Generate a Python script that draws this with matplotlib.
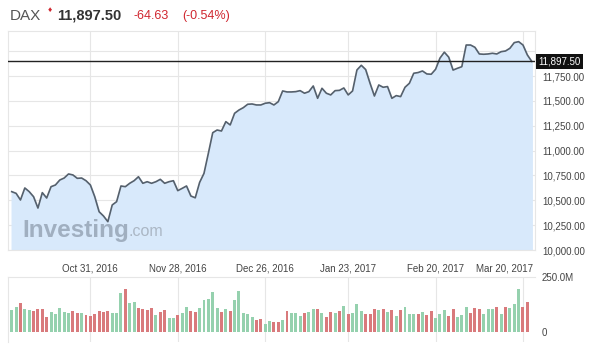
import numpy as np
import pandas as pd
import matplotlib
matplotlib.use("Agg")
from matplotlib import pyplot as plt
from matplotlib.transforms import ScaledTranslation

plt.rcParams['font.family'] = ['Liberation Sans', 'DejaVu Sans']

# trading days (Xetra closed Dec 26)
dates = pd.bdate_range('2016-10-05', '2017-03-22')
dates = dates[dates != pd.Timestamp('2016-12-26')]

close = [10587, 10570, 10503, 10624, 10587, 10536, 10422, 10577, 10523, 10637,
         10654, 10704, 10724, 10765, 10755, 10721, 10724, 10697, 10654, 10536,
         10385, 10342, 10285, 10453, 10486, 10644, 10637, 10671, 10697, 10737,
         10671, 10687, 10671, 10687, 10711, 10671, 10687, 10697, 10597, 10620,
         10644, 10543, 10525, 10680, 10771, 10973, 11180, 11207, 11197, 11291,
         11258, 11375, 11408, 11432, 11466, 11469, 11459, 11459, 11476, 11482,
         11459, 11492, 11600, 11590, 11590, 11593, 11603, 11577, 11593, 11650,
         11526, 11627, 11577, 11560, 11603, 11606, 11630, 11560, 11600, 11811,
         11858, 11815, 11677, 11549, 11660, 11637, 11644, 11526, 11553, 11543,
         11637, 11677, 11778, 11785, 11801, 11771, 11768, 11818, 11930, 11990,
         11940, 11810, 11828, 11844, 12062, 12062, 12039, 11972, 11969, 11972,
         11979, 11972, 11995, 12002, 12029, 12086, 12096, 12062, 11962, 11897.5]

# volume in millions, no bar yet for the last (current) day
volume = [99, 111, 130, 102, 99, 94, 102, 102, 69, 91,
          79, 107, 91, 84, 94, 84, 87, 76, 73, 81,
          94, 88, 94, 87, 84, 178, 195, 133, 137, 107,
          102, 99, 107, 76, 91, 99, 61, 64, 76, 84,
          111, 94, 91, 107, 145, 149, 180, 107, 91, 102,
          94, 145, 186, 87, 81, 69, 53, 58, 34, 49,
          46, 46, 53, 94, 87, 84, 73, 86, 91, 103,
          103, 86, 65, 91, 86, 94, 117, 83, 86, 126,
          95, 79, 83, 103, 98, 103, 88, 98, 73, 98,
          114, 83, 83, 79, 91, 76, 94, 61, 80, 98,
          73, 103, 68, 76, 114, 86, 109, 103, 83, 103,
          106, 114, 80, 111, 109, 126, 194, 114, 136]
vol_up = "ggrggrrrrgggggrrgrrrrrrgggrggrrrrgrrggrggrrgggggrgrgggggrrggrrgrgg" \
         "grggrgrrgrgrgggrrrgrgrgrgggrgrrgggrrgggrrrgggrgrgggrr"

tick_dates = ['2016-10-31', '2016-11-28', '2016-12-26', '2017-01-23', '2017-02-20', '2017-03-20']
tick_labels = ['Oct 31, 2016', 'Nov 28, 2016', 'Dec 26, 2016', 'Jan 23, 2017', 'Feb 20, 2017', 'Mar 20, 2017']
y_ticks = [10000, 10250, 10500, 10750, 11000, 11250, 11500, 11750, 12000]

last = close[-1]
W, H = 600, 348
fig = plt.figure(figsize=(W / 100, H / 100), dpi=100)

ax = fig.add_axes([8 / W, 1 - 250 / H, 527 / W, 219 / H])
axv = fig.add_axes([8 / W, 1 - 342 / H, 527 / W, 65 / H], sharex=ax)

x = np.arange(len(close))
xt = [int(dates.searchsorted(pd.Timestamp(d))) for d in tick_dates]

grid_c = '#e6e6e6'
ax.fill_between(x, close, 10000, color='#d8e9fb', zorder=1)
ax.plot(x, close, color='#55606c', lw=1.2, zorder=3)
ax.axhline(last, color='#222222', lw=1.0, zorder=4)

ax.set_xlim(-0.85, 119.75)
ax.set_ylim(10000, 12203)
ax.set_yticks(y_ticks)
ax.set_yticklabels(['{:,.2f}'.format(v) if v < 12000 else '' for v in y_ticks])
ax.yaxis.tick_right()
ax.tick_params(axis='y', length=0, pad=5, labelsize=7, labelcolor='#444444')
ax.set_xticks(xt)
ax.set_xticklabels(tick_labels)
ax.tick_params(axis='x', length=0, pad=10, labelsize=7, labelcolor='#444444')
lbl = ax.get_xticklabels()[-1]
lbl.set_horizontalalignment('right')
lbl.set_transform(lbl.get_transform() + ScaledTranslation(0.10, 0, fig.dpi_scale_trans))
ax.grid(True, color=grid_c, lw=0.8, zorder=0)
ax.set_axisbelow(True)
for s in ax.spines.values():
    s.set_color(grid_c)
    s.set_linewidth(0.8)

# current price box
ax.text(1.006, last, '{:,.2f}'.format(last), transform=ax.get_yaxis_transform(),
        ha='left', va='center', fontsize=7, color='white', zorder=6,
        bbox=dict(boxstyle='square,pad=0.25', fc='#111111', ec='none'))

# watermark
wm = ax.text(14 / 527, 0.09, 'Investing', transform=ax.transAxes, fontsize=17.5,
             fontweight='bold', color='#97a5b6', alpha=0.85, ha='left', va='center', zorder=2)
ax.annotate('.com', xy=(1.0, 0.12), xycoords=wm, ha='left', va='bottom', fontsize=11.5,
            color='#a3aebb', alpha=0.85, zorder=2)

# volume
colors = ['#95d1ae' if c == 'g' else '#d97a7c' for c in vol_up]
axv.bar(np.arange(len(volume)), volume, width=0.68, color=colors, zorder=2)
axv.set_ylim(-47, 250)
axv.set_yticks([0, 250])
axv.set_yticklabels(['0', '250.0M'])
axv.yaxis.tick_right()
axv.tick_params(axis='y', length=0, pad=5, labelsize=7, labelcolor='#444444')
axv.tick_params(axis='x', length=0, labelbottom=False)
axv.grid(True, axis='x', color=grid_c, lw=0.8, zorder=0)
axv.set_axisbelow(True)
for s in axv.spines.values():
    s.set_color(grid_c)
    s.set_linewidth(0.8)
axv.spines['right'].set_visible(False)
axv.spines['bottom'].set_visible(False)

# header
fig.text(10 / W, 1 - 16 / H, 'DAX', fontsize=11, color='#555555', va='center', ha='left')
fig.text(48 / W, 1 - 10 / H, '\u2666', fontsize=6, color='#d0262f', va='center', ha='left')
fig.text(57 / W, 1 - 16 / H, '11,897.50', fontsize=10.5, fontweight='bold', color='#333333',
         va='center', ha='left')
fig.text(133 / W, 1 - 16 / H, '-64.63', fontsize=9, color='#d0262f', va='center', ha='left')
fig.text(182 / W, 1 - 16 / H, '(-0.54%)', fontsize=9, color='#d0262f', va='center', ha='left')

fig.savefig('out.png', dpi=100, facecolor='white')
